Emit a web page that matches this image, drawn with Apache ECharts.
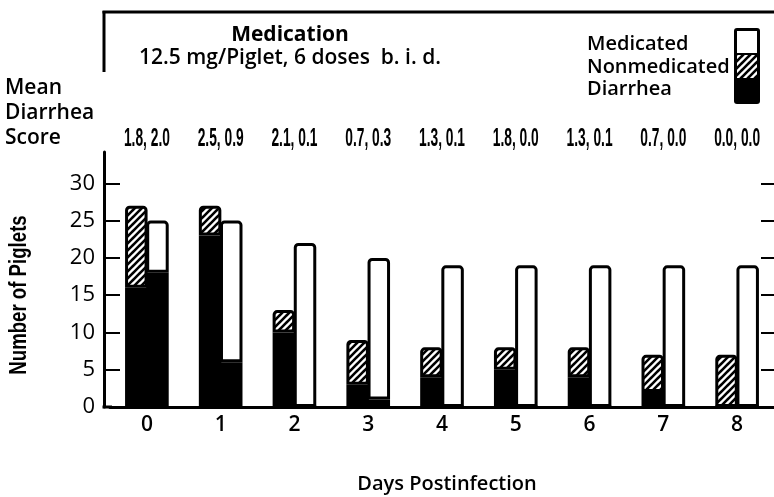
<!DOCTYPE html>
<html><head><meta charset="utf-8">
<script src="https://cdn.jsdelivr.net/npm/echarts@6/dist/echarts.min.js"></script>
<style>html,body{margin:0;padding:0;background:#fff}#c{width:774px;height:497px}</style>
</head><body><div id="c"></div>
<script>
const days = ['0','1','2','3','4','5','6','7','8'];
const scores = ['1.8, 2.0','2.5, 0.9','2.1, 0.1','0.7, 0.3','1.3, 0.1','1.8, 0.0','1.3, 0.1','0.7, 0.0','0.0, 0.0'];
const nonmedTotal    = [27, 27, 13, 9, 8, 8, 8, 7, 7];
const nonmedDiarrhea = [16, 23, 10, 3, 4, 5, 4, 2, 0];
const medTotal       = [25, 25, 22, 20, 19, 19, 19, 19, 19];
const medDiarrhea    = [18, 6, 0, 1, 0, 0, 0, 0, 0];
const yTicks = [0, 5, 10, 15, 20, 25, 30];

const FONT = "'Open Sans', Lato, sans-serif";
const NARROW = "'Liberation Sans', Arial, sans-serif";

function hatchCanvas(){
  const s = 7, c = document.createElement('canvas');
  c.width = s; c.height = s;
  const g = c.getContext('2d');
  g.fillStyle = '#fff'; g.fillRect(0,0,s,s);
  g.strokeStyle = '#000'; g.lineWidth = 2.6; g.lineCap = 'square';
  g.beginPath();
  [-s, 0, s].forEach(x0 => { g.moveTo(x0, s); g.lineTo(x0 + s, 0); });
  g.stroke();
  return c;
}
const hatch = {image: hatchCanvas(), repeat: 'repeat'};

const nonRest = nonmedTotal.map((t,i) => t - nonmedDiarrhea[i]);
const medRest = medTotal.map((t,i) => t - medDiarrhea[i]);

const G = {left: 110, right: 0, top: 152, bottom: 90};
const W = 774, H = 497;
const baseY = H - G.bottom;

const chart = echarts.init(document.getElementById('c'), null, {renderer: 'canvas'});
const lowStyle = {color: '#000', borderColor: '#000', borderWidth: 3, borderRadius: 0};
const topStyle = (fill) => ({color: fill, borderColor: '#000', borderWidth: 3, borderRadius: [3,3,0,0]});
const txt = (x, y, text, font, align, extra) => Object.assign({type: 'text', x, y, style: {text, font, fill: '#000', align: align || 'left', verticalAlign: 'middle'}}, extra || {});
const BW = 22.5, BG = '-6%';

chart.setOption({
  animation: false,
  backgroundColor: '#fff',
  grid: Object.assign({outerBoundsMode: 'none', containLabel: false}, G),
  xAxis: [{
    type: 'category', data: days, position: 'bottom',
    axisLine: {lineStyle: {color: '#000', width: 3}},
    axisTick: {show: false},
    axisLabel: {color: '#000', fontSize: 21, fontWeight: 600, fontFamily: FONT, margin: 8}
  }],
  yAxis: [{
    type: 'value', min: 0, max: 34.2, position: 'left', offset: 6,
    axisLine: {show: true, lineStyle: {color: '#000', width: 3}},
    axisTick: {show: true, inside: true, length: 16, lineStyle: {color: '#000', width: 2}, customValues: yTicks},
    axisLabel: {color: '#000', fontSize: 22, fontWeight: 500, fontFamily: FONT, margin: 9, customValues: yTicks},
    splitLine: {show: false}
  },{
    type: 'value', min: 0, max: 34.2, position: 'right',
    axisLine: {show: false},
    axisTick: {show: true, inside: true, length: 13, lineStyle: {color: '#000', width: 2}, customValues: yTicks.slice(1)},
    axisLabel: {show: false},
    splitLine: {show: false}
  }],
  series: [
    {name: 'Nonmedicated Diarrhea', type: 'bar', stack: 'non', data: nonmedDiarrhea, barWidth: BW, barGap: BG, itemStyle: lowStyle},
    {name: 'Nonmedicated', type: 'bar', stack: 'non', data: nonRest, barWidth: BW, barGap: BG, itemStyle: topStyle(hatch)},
    {name: 'Medicated Diarrhea', type: 'bar', stack: 'med', data: medDiarrhea, barWidth: BW, barGap: BG, itemStyle: lowStyle},
    {name: 'Medicated', type: 'bar', stack: 'med', data: medRest, barWidth: BW, barGap: BG, itemStyle: topStyle('#fff')}
  ]
});

// score labels placed at category centres via the axis scale
const scoreY = 139;
const scoreGraphics = scores.map((s, i) => {
  const x = chart.convertToPixel({xAxisIndex: 0}, days[i]);
  return txt(x, scoreY, s, "bold 26px " + NARROW, 'center', {scaleX: 0.53});
});

chart.setOption({
  graphic: [
    {type: 'line', shape: {x1: 102.5, y1: 12, x2: 774, y2: 12}, style: {stroke: '#000', lineWidth: 3}},
    {type: 'line', shape: {x1: 104, y1: 11, x2: 104, y2: 72}, style: {stroke: '#000', lineWidth: 3}},
    {type: 'line', shape: {x1: 102.5, y1: baseY, x2: 112, y2: baseY}, style: {stroke: '#000', lineWidth: 3}},
    txt(290, 35, 'Medication', "bold 21px " + FONT, 'center'),
    txt(290, 58, '12.5 mg/Piglet, 6 doses  b. i. d.', "600 21px " + FONT, 'center'),
    txt(587, 44, 'Medicated', "600 20px " + FONT),
    txt(587, 67, 'Nonmedicated', "600 20px " + FONT),
    txt(587, 89, 'Diarrhea', "600 20px " + FONT),
    {type: 'rect', shape: {x: 734, y: 28, width: 26, height: 76, r: 3}, style: {fill: '#000'}},
    {type: 'rect', shape: {x: 737, y: 31, width: 20, height: 22}, style: {fill: '#fff'}},
    {type: 'rect', shape: {x: 737, y: 55, width: 20, height: 23}, style: {fill: hatch}},
    txt(5, 88, 'Mean', "600 21px " + FONT),
    txt(5, 113, 'Diarrhea', "600 21px " + FONT),
    txt(5, 138, 'Score', "600 21px " + FONT),
    txt(20, 295, 'Number of Piglets', "bold 23px " + NARROW, 'center', {rotation: Math.PI/2, scaleX: 0.81}),
    txt(447, 484, 'Days Postinfection', "600 20px " + FONT, 'center')
  ].concat(scoreGraphics)
});
</script></body></html>
